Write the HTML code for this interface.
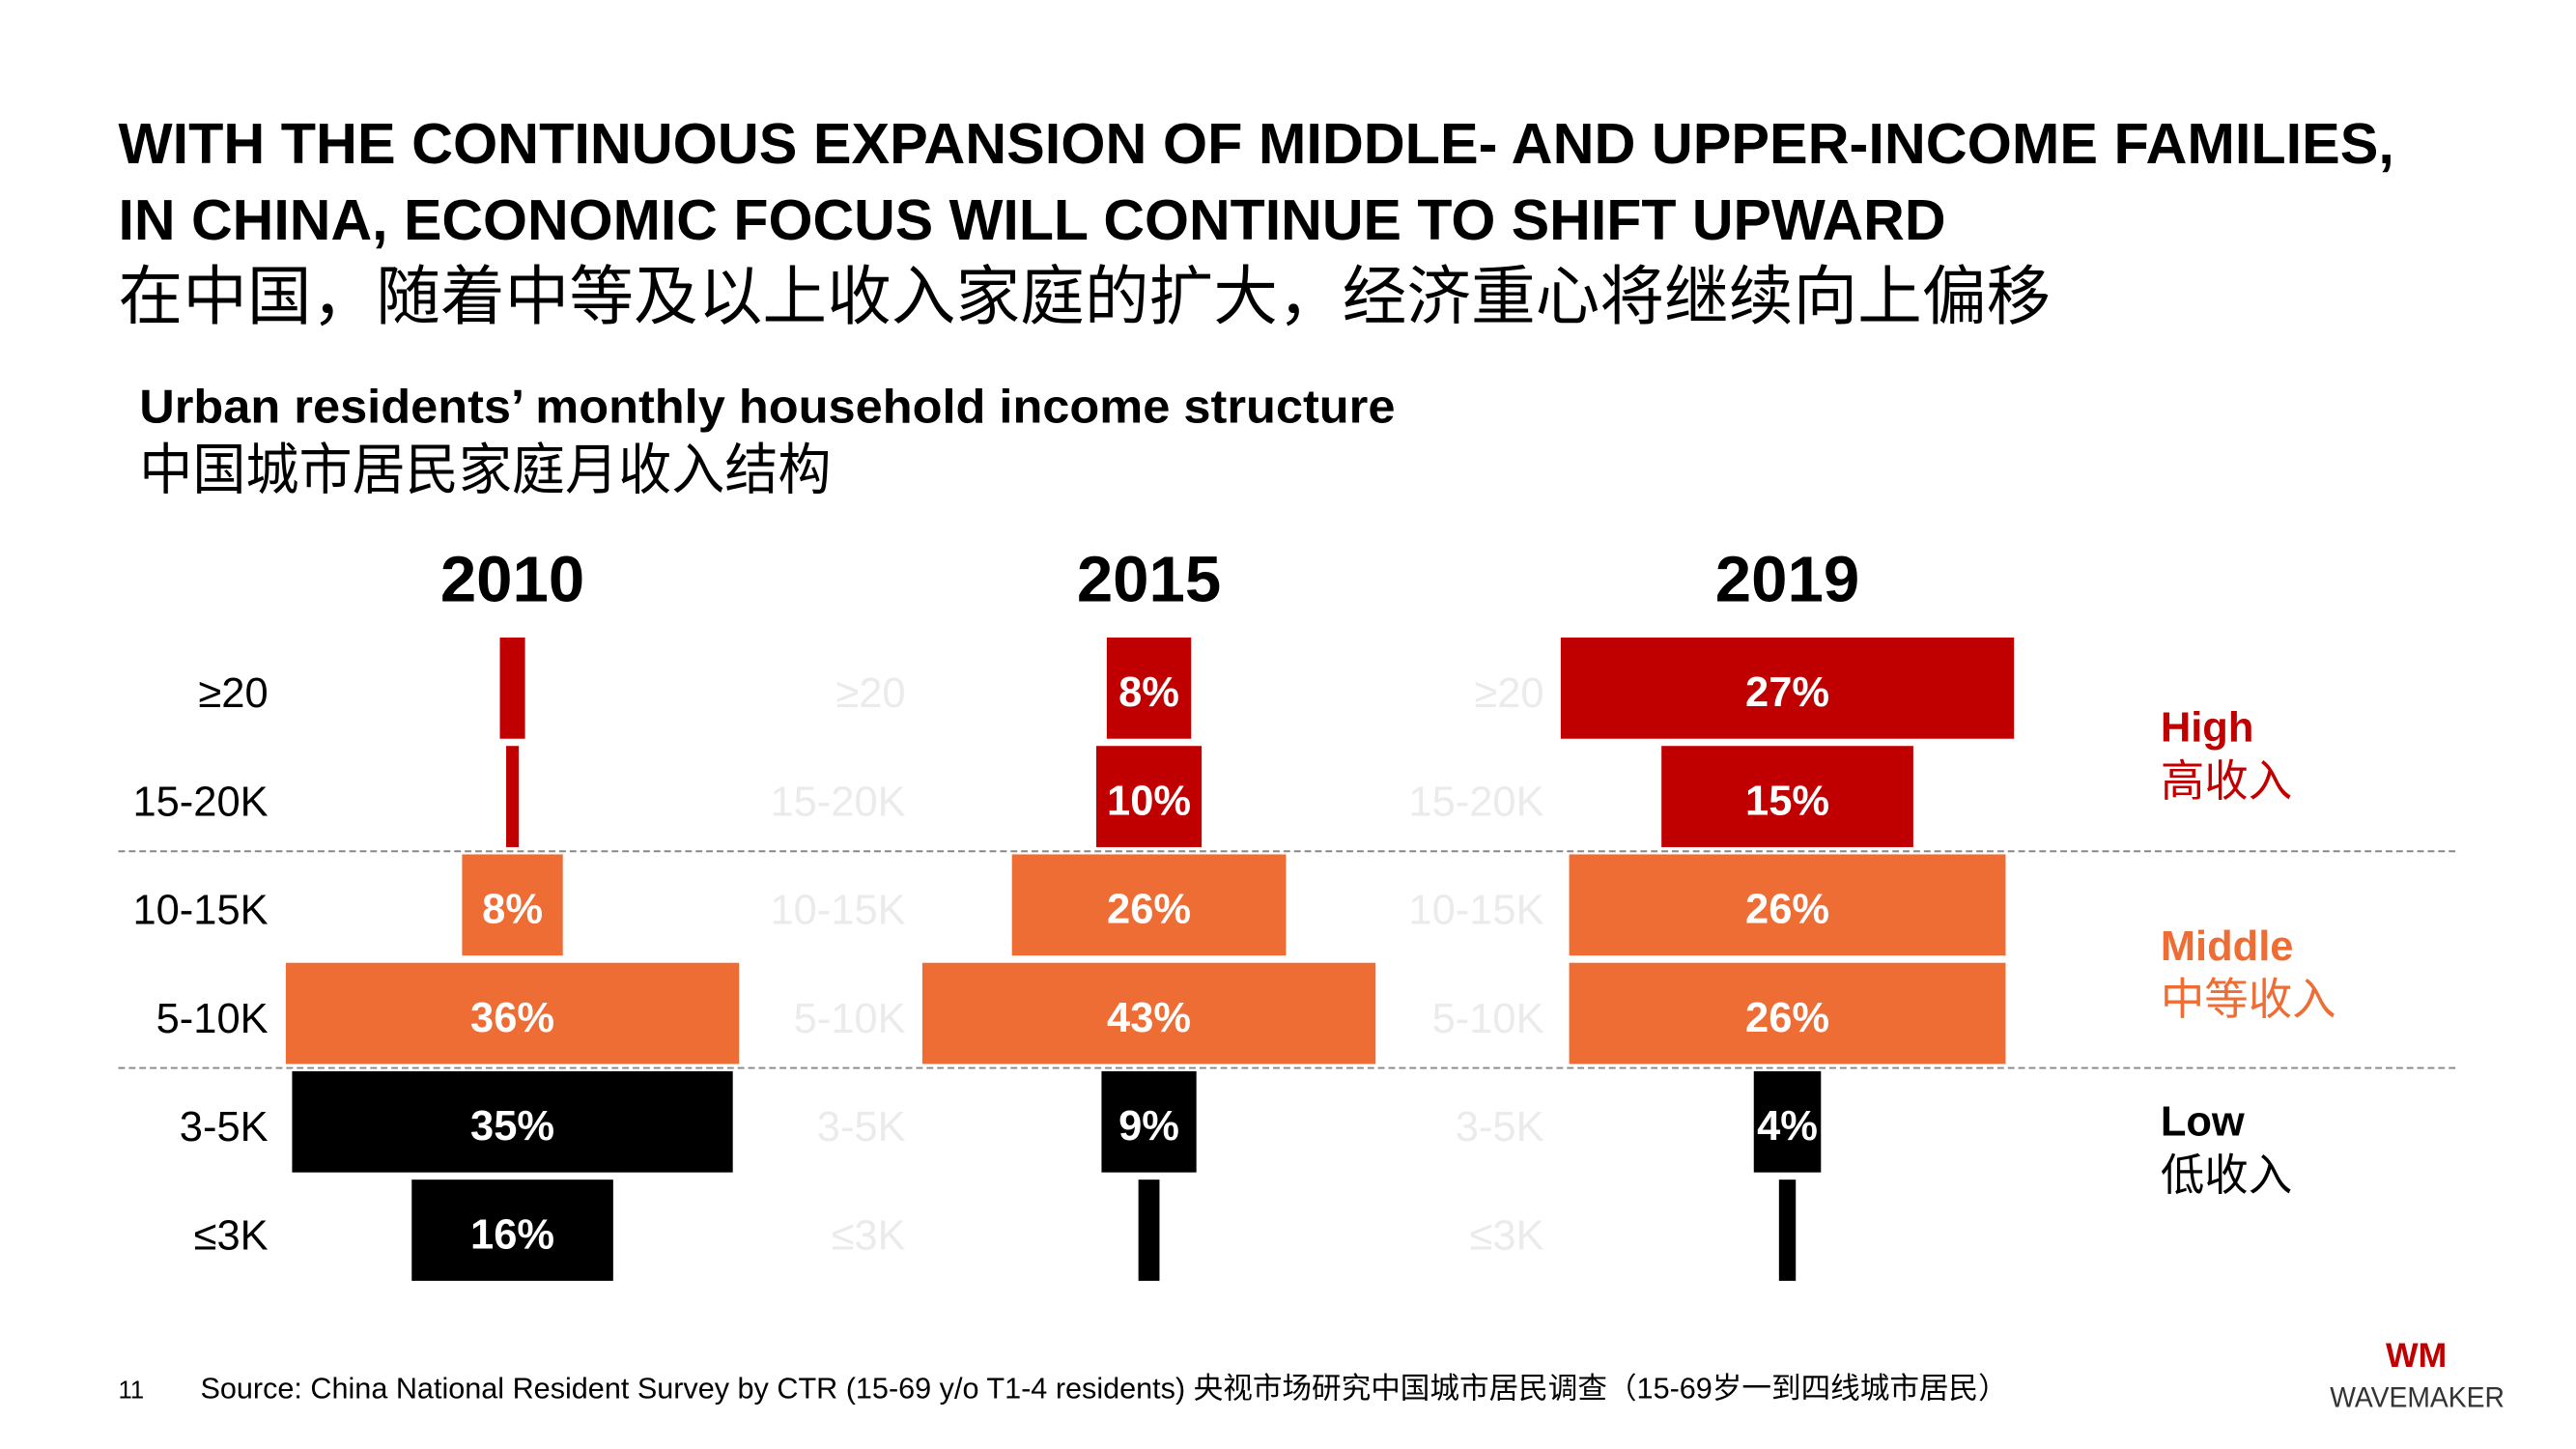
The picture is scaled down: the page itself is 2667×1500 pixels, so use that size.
<!DOCTYPE html>
<html><head><meta charset="utf-8"><style>
html,body{margin:0;padding:0;background:#fff;}
svg{display:block;}
text{font-family:"Liberation Sans","Noto Sans CJK SC",sans-serif;}
</style></head><body>
<svg id="chart" width="2667" height="1500" viewBox="0 0 2667 1500" xmlns="http://www.w3.org/2000/svg">
<g transform="scale(0.988)">
<text x="124" y="171" font-size="60" font-weight="bold" textLength="2385" lengthAdjust="spacingAndGlyphs">WITH THE CONTINUOUS EXPANSION OF MIDDLE- AND UPPER-INCOME FAMILIES,</text>
<text x="124" y="251" font-size="60" font-weight="bold" textLength="1915" lengthAdjust="spacingAndGlyphs">IN CHINA, ECONOMIC FOCUS WILL CONTINUE TO SHIFT UPWARD</text>
<text x="124" y="334" font-size="68" textLength="2025" lengthAdjust="spacingAndGlyphs">在中国，随着中等及以上收入家庭的扩大，经济重心将继续向上偏移</text>
<text x="146" y="443" font-size="50" font-weight="bold" textLength="1316" lengthAdjust="spacingAndGlyphs">Urban residents’ monthly household income structure</text>
<text x="146" y="512" font-size="58" textLength="725" lengthAdjust="spacingAndGlyphs">中国城市居民家庭月收入结构</text>
<line x1="124" y1="892" x2="2577" y2="892" stroke="#888" stroke-width="2" stroke-dasharray="7,4"/>
<line x1="124" y1="1119" x2="2577" y2="1119" stroke="#888" stroke-width="2" stroke-dasharray="7,4"/>
<g id="bars"></g>
<text x="2264" y="777" font-size="44" font-weight="bold" fill="#C00000">High</text>
<text x="2264" y="834" font-size="46" fill="#C00000">高收入</text>
<text x="2264" y="1006" font-size="44" font-weight="bold" fill="#ED6D35">Middle</text>
<text x="2264" y="1063" font-size="46" fill="#ED6D35">中等收入</text>
<text x="2264" y="1190" font-size="44" font-weight="bold">Low</text>
<text x="2264" y="1247" font-size="46">低收入</text>
<text x="124" y="1465" font-size="26">11</text>
<text x="210" y="1465" font-size="31" textLength="1894" lengthAdjust="spacingAndGlyphs">Source: China National Resident Survey by CTR (15-69 y/o T1-4 residents) 央视市场研究中国城市居民调查（15-69岁一到四线城市居民）</text>
<text x="2532" y="1432" font-size="36" font-weight="bold" fill="#C00000" text-anchor="middle">WM</text>
<text x="2533" y="1474" font-size="30" fill="#333" text-anchor="middle" textLength="183" lengthAdjust="spacingAndGlyphs">WAVEMAKER</text>
</g>
</svg>
<script>
const years = ["2010","2015","2019"];
const categories = ["≥20","15-20K","10-15K","5-10K","3-5K","≤3K"];
const values2010 = [2, 1, 8, 36, 35, 16];
const values2015 = [8, 10, 26, 43, 9, 2];
const values2019 = [27, 15, 26, 26, 4, 1];
const labels2010 = ["", "", "8%", "36%", "35%", "16%"];
const labels2015 = ["8%", "10%", "26%", "43%", "9%", ""];
const labels2019 = ["27%", "15%", "26%", "26%", "4%", ""];
const NS = "http://www.w3.org/2000/svg";
const g = document.getElementById('bars');
const centers = [537, 1204, 1873];
const labelRight = [281, 949, 1618];
const colors = ["#C00000","#C00000","#ED6D35","#ED6D35","#000000","#000000"];
const series = [values2010, values2015, values2019];
const labs = [labels2010, labels2015, labels2019];
const rowTop = i => 668 + i * 113.6;
const barH = 106;
const maxW = 475;
function mk(tag, attrs){const e=document.createElementNS(NS,tag);for(const k in attrs)e.setAttribute(k,attrs[k]);return e;}
series.forEach((vals, c) => {
  const yt = mk('text', {x: centers[c], y: 630, 'font-size': 68, 'font-weight': 'bold', 'text-anchor': 'middle'});
  
  
  yt.textContent = years[c];
  g.appendChild(yt);
  const mx = Math.max(...vals);
  const xw = v => v / mx * maxW;
  vals.forEach((v, i) => {
    const lt = mk('text', {x: labelRight[c], y: rowTop(i) + barH/2 + 20, 'font-size': 44, 'text-anchor': 'end', fill: c === 0 ? '#000' : '#ebebeb'});
    
    
    lt.textContent = categories[i];
    g.appendChild(lt);
    const w = xw(v);
    const r = mk('rect', {x: centers[c] - w/2, y: rowTop(i), width: w, height: barH, fill: colors[i]});
    
    
    g.appendChild(r);
    if (labs[c][i]) {
      const t = mk('text', {x: centers[c], y: rowTop(i) + barH/2 + 19, 'font-size': 44, 'font-weight': 'bold', 'text-anchor': 'middle', fill: '#fff'});
      
      
      t.textContent = labs[c][i];
      g.appendChild(t);
    }
  });
});
</script>
</body></html>
